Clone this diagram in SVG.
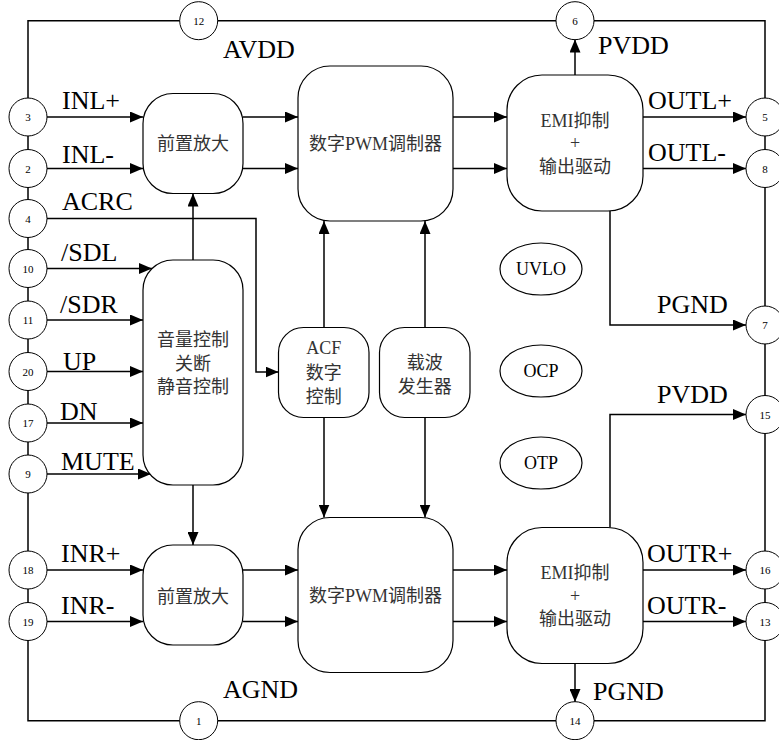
<svg xmlns="http://www.w3.org/2000/svg" width="779" height="740" viewBox="0 0 779 740">
<defs>
<marker id="arr" markerWidth="13" markerHeight="11" refX="13" refY="5.5" orient="auto" markerUnits="userSpaceOnUse"><path d="M0,0 L13,5.5 L0,11 Z" fill="#000"/></marker>
</defs>
<style>
.w{fill:none;stroke:#000;stroke-width:1.5}
.a{marker-end:url(#arr)}
.box{fill:#fff;stroke:#000;stroke-width:1.2}
.pin{fill:#fff;stroke:#000;stroke-width:1}
.pn{font-family:"Liberation Serif",serif;font-size:11px;text-anchor:middle;fill:#000}
.lbl{font-family:"Liberation Serif",serif;font-size:26px;fill:#000}
.nt{font-family:"Liberation Serif","Noto Sans CJK SC",serif;font-size:18px;text-anchor:middle;fill:#333}
.et{font-family:"Liberation Serif",serif;font-size:18px;text-anchor:middle;fill:#000}
</style>
<rect width="779" height="740" fill="#fff"/>
<g id="connectors">
<path class="w" d="M28 20.7 H765 V720.7 H28 Z"/>
<path class="w a" d="M47 117 H143"/>
<path class="w a" d="M47 168.5 H143"/>
<path class="w a" d="M47 218.5 H256 V372 H278.5"/>
<path class="w a" d="M47 268.5 H152"/>
<path class="w a" d="M47 320 H143"/>
<path class="w a" d="M47 371.5 H143"/>
<path class="w a" d="M47 423 H143"/>
<path class="w a" d="M47 474 H151"/>
<path class="w a" d="M47 570 H143"/>
<path class="w a" d="M47 621.5 H143"/>
<path class="w a" d="M193 260 V193.5"/>
<path class="w a" d="M193 485 V545"/>
<path class="w a" d="M243 117 H298"/>
<path class="w a" d="M243 168.5 H298"/>
<path class="w a" d="M453 117 H507"/>
<path class="w a" d="M453 168.5 H507"/>
<path class="w a" d="M643 117 H746"/>
<path class="w a" d="M643 168.5 H746"/>
<path class="w a" d="M575 75 V39.5"/>
<path class="w a" d="M610 211 V325 H746"/>
<path class="w a" d="M324 327.5 V221"/>
<path class="w a" d="M324 417.5 V517.5"/>
<path class="w a" d="M425 327.5 V221"/>
<path class="w a" d="M425 417.5 V517.5"/>
<path class="w a" d="M610 527.5 V414.5 H746"/>
<path class="w a" d="M243 570 H298"/>
<path class="w a" d="M243 621.5 H298"/>
<path class="w a" d="M453 570 H507"/>
<path class="w a" d="M453 621.5 H507"/>
<path class="w a" d="M643 570 H746"/>
<path class="w a" d="M643 621.5 H746"/>
<path class="w a" d="M575 663.5 V702"/>
</g>
<g id="pre-l"><rect class="box" x="143" y="93.5" width="100" height="100" rx="30"/><text class="nt" x="193" y="149.5">前置放大</text></g>
<g id="pwm-l"><rect class="box" x="298" y="66" width="155" height="155" rx="32"/><text class="nt" x="375.5" y="149.5">数字PWM调制器</text></g>
<g id="emi-l"><rect class="box" x="507" y="75" width="136" height="136" rx="35"/><text class="nt" x="575" y="126.5">EMI抑制</text><text class="nt" x="575" y="149">+</text><text class="nt" x="575" y="172.5">输出驱动</text></g>
<g id="vol"><rect class="box" x="143" y="260" width="100" height="225" rx="30"/><text class="nt" x="193" y="345.5">音量控制</text><text class="nt" x="193" y="370">关断</text><text class="nt" x="193" y="392.5">静音控制</text></g>
<g id="acf"><rect class="box" x="278.5" y="327.5" width="90.5" height="90" rx="25"/><text class="nt" x="323.7" y="353.7">ACF</text><text class="nt" x="323.7" y="378.5">数字</text><text class="nt" x="323.7" y="402.5">控制</text></g>
<g id="carrier"><rect class="box" x="379.5" y="327.5" width="90.5" height="90" rx="25"/><text class="nt" x="424.7" y="368.5">载波</text><text class="nt" x="424.7" y="392.5">发生器</text></g>
<g id="uvlo"><ellipse class="box" cx="541" cy="269" rx="41" ry="26"/><text class="et" x="541" y="275">UVLO</text></g>
<g id="ocp"><ellipse class="box" cx="541" cy="371" rx="41" ry="26"/><text class="et" x="541" y="377">OCP</text></g>
<g id="otp"><ellipse class="box" cx="541" cy="463" rx="41" ry="26"/><text class="et" x="541" y="469">OTP</text></g>
<g id="pre-r"><rect class="box" x="143" y="545" width="100" height="100" rx="30"/><text class="nt" x="193" y="603">前置放大</text></g>
<g id="pwm-r"><rect class="box" x="298" y="517.5" width="155" height="155" rx="32"/><text class="nt" x="375.5" y="601.5">数字PWM调制器</text></g>
<g id="emi-r"><rect class="box" x="507" y="527.5" width="136" height="136" rx="35"/><text class="nt" x="575" y="579">EMI抑制</text><text class="nt" x="575" y="601.5">+</text><text class="nt" x="575" y="625">输出驱动</text></g>
<g id="pin-12"><circle class="pin" cx="198.7" cy="20.7" r="19"/><text class="pn" x="198.7" y="24.7">12</text></g>
<g id="pin-6"><circle class="pin" cx="575" cy="20.7" r="19"/><text class="pn" x="575" y="24.7">6</text></g>
<g id="pin-1"><circle class="pin" cx="198.7" cy="720.7" r="19"/><text class="pn" x="198.7" y="724.7">1</text></g>
<g id="pin-14"><circle class="pin" cx="575" cy="720.7" r="19"/><text class="pn" x="575" y="724.7">14</text></g>
<g id="pin-3"><circle class="pin" cx="28" cy="117" r="19"/><text class="pn" x="28" y="121">3</text></g>
<g id="pin-2"><circle class="pin" cx="28" cy="168.5" r="19"/><text class="pn" x="28" y="172.5">2</text></g>
<g id="pin-4"><circle class="pin" cx="28" cy="218.5" r="19"/><text class="pn" x="28" y="222.5">4</text></g>
<g id="pin-10"><circle class="pin" cx="28" cy="268.5" r="19"/><text class="pn" x="28" y="272.5">10</text></g>
<g id="pin-11"><circle class="pin" cx="28" cy="320" r="19"/><text class="pn" x="28" y="324">11</text></g>
<g id="pin-20"><circle class="pin" cx="28" cy="371.5" r="19"/><text class="pn" x="28" y="375.5">20</text></g>
<g id="pin-17"><circle class="pin" cx="28" cy="423" r="19"/><text class="pn" x="28" y="427">17</text></g>
<g id="pin-9"><circle class="pin" cx="28" cy="474" r="19"/><text class="pn" x="28" y="478">9</text></g>
<g id="pin-18"><circle class="pin" cx="28" cy="570" r="19"/><text class="pn" x="28" y="574">18</text></g>
<g id="pin-19"><circle class="pin" cx="28" cy="621.5" r="19"/><text class="pn" x="28" y="625.5">19</text></g>
<g id="pin-5"><circle class="pin" cx="765" cy="117" r="19"/><text class="pn" x="765" y="121">5</text></g>
<g id="pin-8"><circle class="pin" cx="765" cy="168.5" r="19"/><text class="pn" x="765" y="172.5">8</text></g>
<g id="pin-7"><circle class="pin" cx="765" cy="325" r="19"/><text class="pn" x="765" y="329">7</text></g>
<g id="pin-15"><circle class="pin" cx="765" cy="414.5" r="19"/><text class="pn" x="765" y="418.5">15</text></g>
<g id="pin-16"><circle class="pin" cx="765" cy="570" r="19"/><text class="pn" x="765" y="574">16</text></g>
<g id="pin-13"><circle class="pin" cx="765" cy="621.5" r="19"/><text class="pn" x="765" y="625.5">13</text></g>
<g id="labels">
<text class="lbl" x="223" y="58">AVDD</text>
<text class="lbl" x="598" y="54">PVDD</text>
<text class="lbl" x="62" y="109">INL+</text>
<text class="lbl" x="62" y="163">INL-</text>
<text class="lbl" x="62" y="210">ACRC</text>
<text class="lbl" x="61" y="261">/SDL</text>
<text class="lbl" x="60" y="313">/SDR</text>
<text class="lbl" x="63" y="370">UP</text>
<text class="lbl" x="60" y="420">DN</text>
<text class="lbl" x="61" y="470">MUTE</text>
<text class="lbl" x="61" y="562">INR+</text>
<text class="lbl" x="61" y="614">INR-</text>
<text class="lbl" x="223" y="698">AGND</text>
<text class="lbl" x="648" y="108.5">OUTL+</text>
<text class="lbl" x="648" y="161">OUTL-</text>
<text class="lbl" x="657" y="313">PGND</text>
<text class="lbl" x="657" y="403">PVDD</text>
<text class="lbl" x="647" y="562">OUTR+</text>
<text class="lbl" x="647" y="613.5">OUTR-</text>
<text class="lbl" x="593" y="700">PGND</text>
</g>
</svg>
